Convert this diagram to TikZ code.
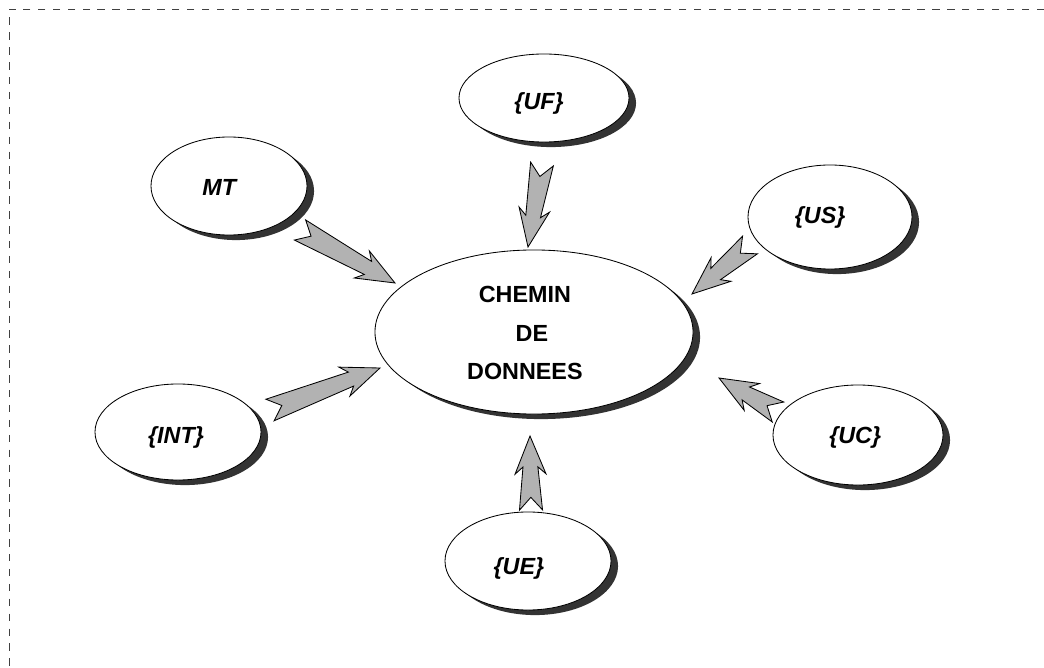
\documentclass[tikz,border=0pt]{standalone}
\usepackage{fontspec}
\setmainfont{Liberation Sans}
\usetikzlibrary{calc,shapes.geometric,shadows}

% block arrow with notched tail and swept barbs, drawn from #1 (tail) to #2 (tip)
\newcommand\blockarrow[2]{%
  \draw[blockarrowstyle] let \p1=(#1), \p2=(#2),
      \n1={atan2(\y2-\y1,\x2-\x1)},
      \n2={veclen(\x2-\x1,\y2-\y1)} in
    ($(\p1)+(\n1+90:8.2pt)$)
    -- ($(\p1)+(\n1:\n2-22pt)+(\n1+90:5.3pt)$)
    -- ($(\p1)+(\n1:\n2-27pt)+(\n1+90:11pt)$)
    -- (\p2)
    -- ($(\p1)+(\n1:\n2-27pt)+(\n1-90:11pt)$)
    -- ($(\p1)+(\n1:\n2-22pt)+(\n1-90:5.3pt)$)
    -- ($(\p1)+(\n1-90:8.2pt)$)
    -- ($(\p1)+(\n1:9pt)$)
    -- cycle;}

\begin{document}
\begin{tikzpicture}[x=0.025cm,y=-0.025cm,
  bubble/.style={ellipse, draw=black, line width=0.6pt, fill=white, inner sep=0pt,
    general shadow={shadow xshift=5pt, shadow yshift=-3.6pt, fill=black!80}},
  tag/.style={inner sep=0pt, font=\fontsize{16.6}{20}\selectfont\bfseries\itshape},
  hubtag/.style={inner sep=0pt, align=center,
    font=\fontsize{16.6}{27.4}\selectfont\bfseries},
  blockarrowstyle/.style={fill=black!30, draw=black, line width=0.6pt, line join=miter},
  frameline/.style={draw=black!75, line width=0.7pt, dash pattern=on 5.3pt off 5.3pt}]

\useasboundingbox (0,0) rectangle (1044,668);

% dashed frame along the top and left edges
\draw[frameline] (1044,9) -- (9,9) -- (9,668);

% central node
\node[bubble, minimum width=7.95cm, minimum height=4.1cm,
  label={[hubtag, xshift=-6.5pt, yshift=-1pt]center:CHEMIN\\ \hspace*{10pt}DE\\ DONNEES}]
  (c) at (534,332) {};

% surrounding units
\node[bubble, minimum width=3.9cm,  minimum height=2.45cm,
  label={[tag, xshift=-7pt, yshift=-1.4pt]center:MT}]      (mt)  at (229,186) {};
\node[bubble, minimum width=4.25cm, minimum height=2.2cm,
  label={[tag, xshift=-3.5pt, yshift=-4pt]center:\{UF\}}]  (uf)  at (544,98)  {};
\node[bubble, minimum width=4.1cm,  minimum height=2.6cm,
  label={[tag, xshift=-7pt, yshift=0pt]center:\{US\}}]     (us)  at (830,217) {};
\node[bubble, minimum width=4.15cm, minimum height=2.4cm,
  label={[tag, xshift=-1.4pt, yshift=-4pt]center:\{INT\}}] (int) at (178,432) {};
\node[bubble, minimum width=4.25cm, minimum height=2.5cm,
  label={[tag, xshift=-2pt, yshift=-2pt]center:\{UC\}}]    (uc)  at (858,435) {};
\node[bubble, minimum width=4.15cm, minimum height=2.45cm,
  label={[tag, xshift=-6.5pt, yshift=-5pt]center:\{UE\}}]  (ue)  at (528,561) {};

% arrow end points
\coordinate (mt-tail)  at (300,230);  \coordinate (mt-tip)  at (395,283);
\coordinate (uf-tail)  at (542,164);  \coordinate (uf-tip)  at (528,247);
\coordinate (us-tail)  at (750,245);  \coordinate (us-tip)  at (692,294);
\coordinate (int-tail) at (270,410);  \coordinate (int-tip) at (380,368);
\coordinate (uc-tail)  at (778,412);  \coordinate (uc-tip)  at (719,378);
\coordinate (ue-tail)  at (531,510);  \coordinate (ue-tip)  at (530,436);

\blockarrow{mt-tail}{mt-tip}
\blockarrow{uf-tail}{uf-tip}
\blockarrow{us-tail}{us-tip}
\blockarrow{int-tail}{int-tip}
\blockarrow{uc-tail}{uc-tip}
\blockarrow{ue-tail}{ue-tip}
\end{tikzpicture}
\end{document}
